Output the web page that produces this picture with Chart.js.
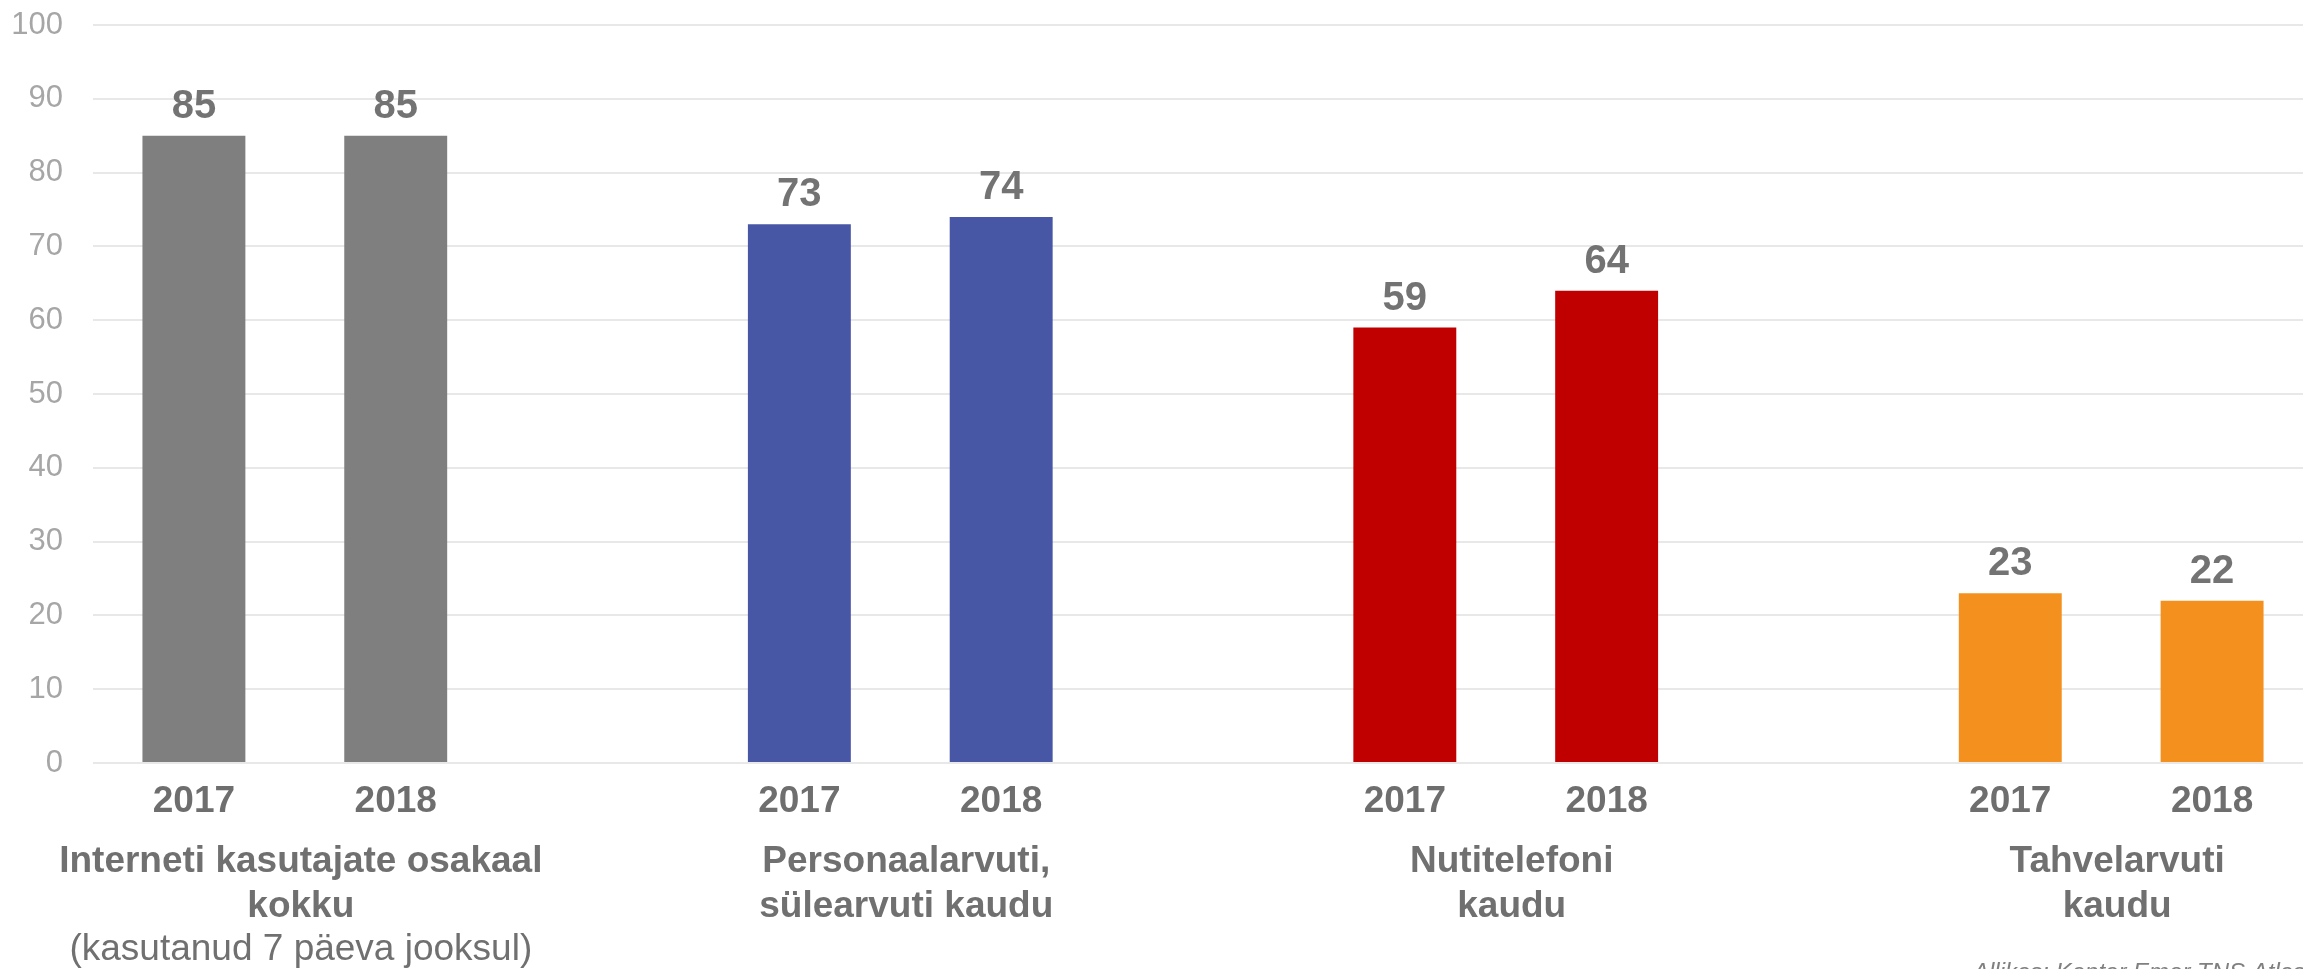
<!DOCTYPE html>
<html>
<head>
<meta charset="utf-8">
<title>Interneti kasutajad</title>
<script src="https://cdn.jsdelivr.net/npm/chart.js@4.4.1/dist/chart.umd.min.js"></script>
<style>
  html, body { margin: 0; padding: 0; background: #fff; overflow: hidden; }
  #wrap { position: relative; width: 2313px; height: 969px; }
</style>
</head>
<body>
<div id="wrap"><canvas id="chart"></canvas></div>
<script>
'use strict';

/* ---- data ---- */
const years = ['2017', '2018'];
const groupTitles = [
  ['Interneti kasutajate osakaal', 'kokku'],
  ['Personaalarvuti,', 'sülearvuti kaudu'],
  ['Nutitelefoni', 'kaudu'],
  ['Tahvelarvuti', 'kaudu']
];
const groupNotes = ['(kasutanud 7 päeva jooksul)', '', '', ''];
const values2017 = [85, 73, 59, 23];
const values2018 = [85, 74, 64, 22];
const groupColors = ['#7f7f7f', '#4856a6', '#c00000', '#f4911e'];
const yTicks = [0, 10, 20, 30, 40, 50, 60, 70, 80, 90, 100];
const sourceText = 'Allikas: Kantar Emor TNS Atlas';

/* ---- build slots: 2017, 2018, gap, ... ---- */
const labels = [];
const values = [];
const colors = [];
const groupSlots = [];
groupTitles.forEach((_, g) => {
  if (g > 0) { labels.push(''); values.push(null); colors.push('transparent'); }
  groupSlots.push([labels.length, labels.length + 1]);
  labels.push(years[0]); values.push(values2017[g]); colors.push(groupColors[g]);
  labels.push(years[1]); values.push(values2018[g]); colors.push(groupColors[g]);
});

const FONT = "'Liberation Sans', Arial, sans-serif";

/* value labels above the bars */
const valueLabels = {
  id: 'valueLabels',
  afterDatasetsDraw(chart) {
    const ctx = chart.ctx;
    const meta = chart.getDatasetMeta(0);
    ctx.save();
    ctx.font = 'bold 40px ' + FONT;
    ctx.fillStyle = '#737373';
    ctx.textAlign = 'center';
    ctx.textBaseline = 'alphabetic';
    meta.data.forEach((bar, i) => {
      if (values[i] == null) return;
      ctx.fillText(String(values[i]), bar.x, bar.y - 18);
    });
    ctx.restore();
  }
};

/* group titles under the year labels + source line */
const groupLabels = {
  id: 'groupLabels',
  afterDraw(chart) {
    const ctx = chart.ctx;
    const x = chart.scales.x;
    ctx.save();
    ctx.fillStyle = '#707070';
    ctx.textAlign = 'center';
    ctx.textBaseline = 'alphabetic';
    groupSlots.forEach((slots, g) => {
      const cx = (x.getPixelForValue(slots[0]) + x.getPixelForValue(slots[1])) / 2 + 6;
      ctx.font = 'bold 37px ' + FONT;
      groupTitles[g].forEach((line, j) => ctx.fillText(line, cx, 872 + j * 45));
      if (groupNotes[g]) {
        ctx.font = '37px ' + FONT;
        ctx.fillText(groupNotes[g], cx, 960);
      }
    });
    ctx.font = 'italic 24px ' + FONT;
    ctx.fillStyle = '#808080';
    ctx.textAlign = 'left';
    ctx.fillText(sourceText, 1973, 980);
    ctx.restore();
  }
};

new Chart(document.getElementById('chart'), {
  type: 'bar',
  data: {
    labels,
    datasets: [{
      data: values,
      backgroundColor: colors,
      borderWidth: 0,
      categoryPercentage: 1,
      barPercentage: 0.51
    }]
  },
  options: {
    responsive: true,
    maintainAspectRatio: false,
    animation: false,
    layout: { padding: { top: 25, right: 0, left: 0, bottom: 0 } },
    plugins: {
      legend: { display: false },
      tooltip: { enabled: false }
    },
    scales: {
      x: {
        grid: { display: false, drawTicks: false },
        border: { display: false },
        ticks: {
          color: '#6e6e6e',
          font: { family: FONT, size: 37, weight: 'bold' },
          padding: 17,
          maxRotation: 0,
          autoSkip: false
        },
        afterFit(scale) { scale.height = 206; }
      },
      y: {
        min: 0,
        max: 100,
        afterBuildTicks(scale) { scale.ticks = yTicks.map(v => ({ value: v })); },
        grid: { color: '#e8e8e8', lineWidth: 2, drawTicks: false },
        border: { display: false },
        ticks: {
          color: '#a6a6a6',
          font: { family: FONT, size: 31 },
          padding: 30
        },
        afterFit(scale) {
          scale.width = 93;
          scale.paddingTop = 0;
          scale.paddingBottom = 0;
        }
      }
    }
  },
  plugins: [valueLabels, groupLabels]
});
</script>
</body>
</html>
